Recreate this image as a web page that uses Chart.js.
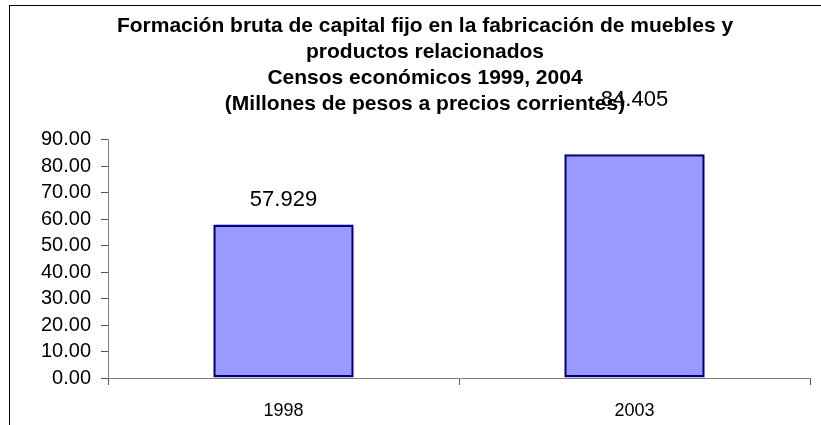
<!DOCTYPE html>
<html lang="es">
<head>
  <meta charset="UTF-8">
  <title>Formación bruta de capital fijo</title>
  <script src="https://cdn.jsdelivr.net/npm/chart.js"></script>
  <style>
    body { margin: 0; background: #fff; }
    canvas { display: block; }
  </style>
</head>
<body>
  <canvas id="chart" width="821" height="425"></canvas>

  <script>
    // datos
    const years = ['1998', '2003'];
    const values = [57.929, 84.405];
    const valueLabels = ['57.929', '84.405'];
    const titleLines = [
      'Formación bruta de capital fijo en la fabricación de muebles y',
      'productos relacionados',
      'Censos económicos 1999, 2004',
      '(Millones de pesos a precios corrientes)'
    ];

    const FONT = "Arial, 'Liberation Sans', sans-serif";

    // marco del area del grafico (solo borde izquierdo y superior visibles)
    const frame = {
      id: 'frame',
      beforeDraw(chart) {
        const c = chart.ctx;
        c.save();
        c.fillStyle = '#fff';
        c.fillRect(0, 0, chart.width, chart.height);
        c.strokeStyle = '#000';
        c.lineWidth = 1;
        c.strokeRect(9.5, 5.5, chart.width + 20, chart.height + 20);
        c.restore();
      }
    };

    // etiquetas de valor encima de cada barra
    const barLabels = {
      id: 'barLabels',
      afterDatasetsDraw(chart, args, opts) {
        const c = chart.ctx;
        const meta = chart.getDatasetMeta(0);
        c.save();
        c.font = opts.font;
        c.fillStyle = '#000';
        c.textAlign = 'center';
        c.textBaseline = 'middle';
        meta.data.forEach((bar, i) => {
          c.fillText(valueLabels[i], bar.x, bar.y - opts.offsets[i]);
        });
        c.restore();
      }
    };

    const ctx = document.getElementById('chart').getContext('2d');
    new Chart(ctx, {
      type: 'bar',
      data: {
        labels: years,
        datasets: [{
          data: values,
          backgroundColor: '#9999ff',
          borderColor: '#000080',
          borderWidth: 2.5,
          borderSkipped: false,
          categoryPercentage: 1,
          barPercentage: 0.4
        }]
      },
      options: {
        responsive: false,
        animation: false,
        layout: { padding: { left: 40, right: 11, top: 0, bottom: 0 } },
        plugins: {
          legend: { display: false },
          tooltip: { enabled: false },
          title: {
            display: true,
            text: titleLines,
            color: '#000',
            font: { family: FONT, size: 21, weight: 'bold', lineHeight: 26 / 21 },
            padding: { top: 13, bottom: 22.5 }
          },
          barLabels: {
            font: '22px ' + FONT,
            offsets: [25, 54]
          }
        },
        scales: {
          x: {
            grid: {
              drawOnChartArea: false,
              drawTicks: true,
              tickLength: 7,
              color: '#555',
              offset: true
            },
            border: { color: '#808080', width: 1 },
            ticks: {
              color: '#000',
              padding: 15,
              font: { family: FONT, size: 18 }
            },
            afterFit(scale) { scale.height = 47; }
          },
          y: {
            min: 0,
            max: 90,
            grid: {
              drawOnChartArea: false,
              drawTicks: true,
              tickLength: 7,
              color: '#555'
            },
            border: { color: '#808080', width: 1 },
            ticks: {
              stepSize: 10,
              autoSkip: false,
              color: '#000',
              padding: 10,
              font: { family: FONT, size: 20 },
              callback: v => v.toFixed(2)
            },
            afterFit(scale) { scale.width = 68; }
          }
        }
      },
      plugins: [frame, barLabels]
    });
  </script>
</body>
</html>
